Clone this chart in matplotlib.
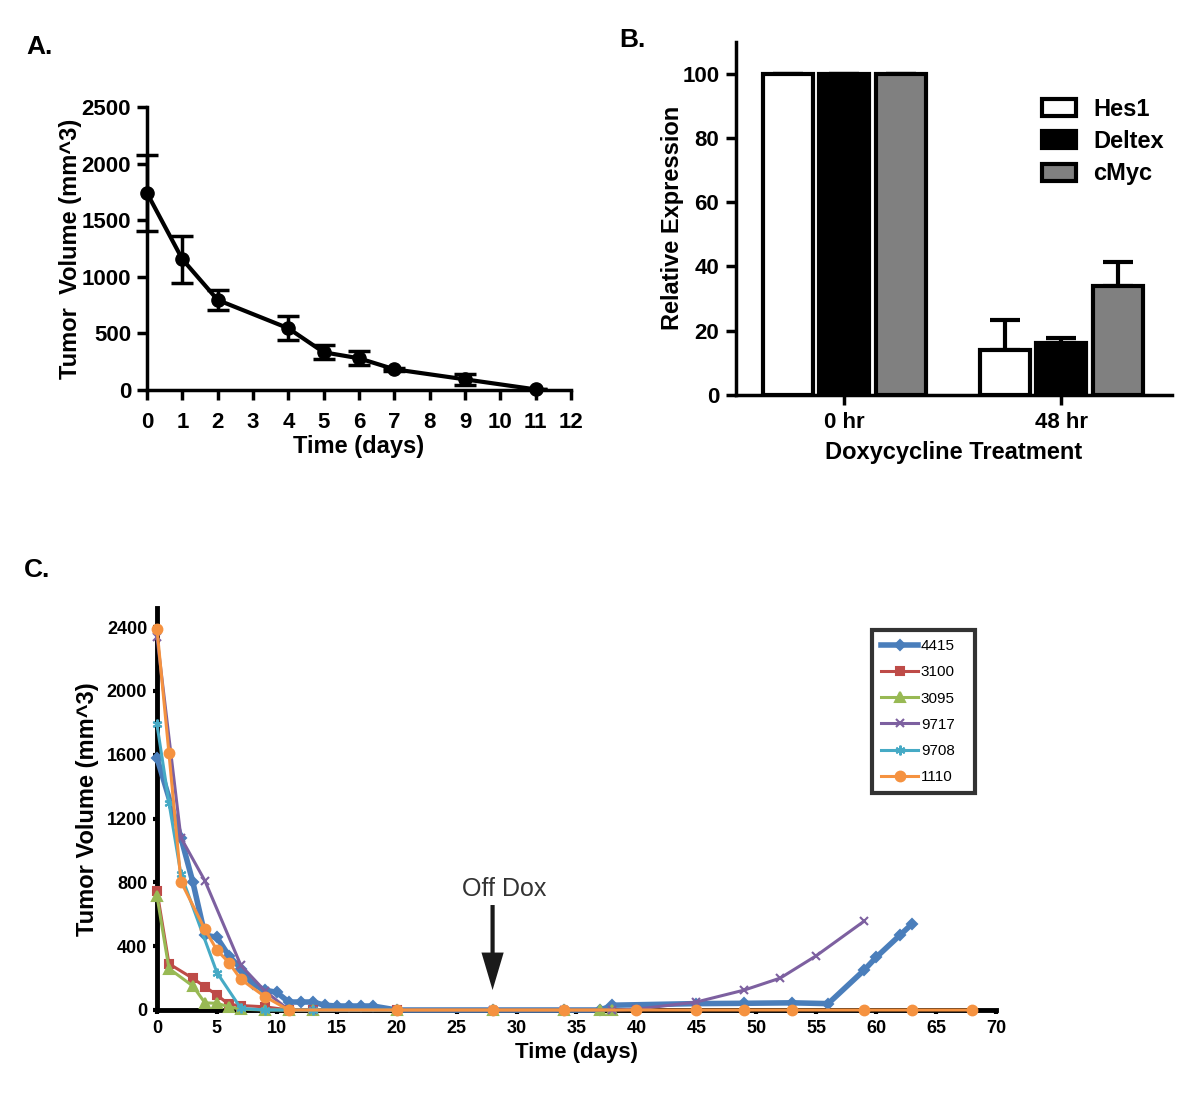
import numpy as np
import matplotlib
matplotlib.use('Agg')
import matplotlib.pyplot as plt

plt.rcParams['font.family'] = ['Liberation Sans', 'DejaVu Sans']

# ---- panel A: mean tumor volume
a_days = [0, 1, 2, 4, 5, 6, 7, 9, 11]
a_vol = [1740, 1155, 795, 545, 333, 280, 183, 94, 5]
a_err = [332, 207, 90, 105, 62, 60, 12, 50, 0]

# ---- panel B: relative expression
b_groups = ['0 hr', '48 hr']
b_genes = ['Hes1', 'Deltex', 'cMyc']
b_vals = {'Hes1': [100, 14], 'Deltex': [100, 16.1], 'cMyc': [100, 34]}
b_err = {'Hes1': [0, 9.3], 'Deltex': [0, 1.6], 'cMyc': [0, 7.4]}
b_colors = ['white', 'black', '#808080']

# ---- panel C: individual tumors
c_names = ['4415', '3100', '3095', '9717', '9708', '1110']
d4415 = [0, 2, 3, 4, 5, 6, 7, 8, 9, 10, 11, 12, 13, 14, 15, 16, 17, 18, 20, 28, 34, 37, 38, 45, 49, 53, 56, 59, 60, 62, 63]
v4415 = [1580, 1080, 800, 470, 455, 340, 260, 160, 125, 110, 50, 50, 50, 30, 25, 25, 25, 25, 0, 0, 0, 0, 30, 40, 42, 45, 40, 250, 330, 470, 540]
d3100 = [0, 1, 3, 4, 5, 6, 7, 9, 11, 13, 20]
v3100 = [746, 290, 198, 146, 94, 35, 28, 20, 0, 0, 0]
d3095 = [0, 1, 3, 4, 5, 6, 7, 9, 11, 13, 20, 28, 34, 37, 38]
v3095 = [715, 260, 150, 45, 42, 20, 5, 0, 0, 0, 0, 0, 0, 0, 0]
d9717 = [0, 2, 4, 7, 9, 11, 13, 20, 28, 34, 38, 40, 45, 49, 52, 55, 59]
v9717 = [2340, 1080, 810, 280, 120, 0, 0, 0, 0, 0, 0, 5, 50, 125, 200, 340, 557]
d9708 = [0, 1, 2, 5, 7, 9, 11, 13, 20]
v9708 = [1790, 1300, 850, 235, 10, 0, 0, 0, 0]
d1110 = [0, 1, 2, 4, 5, 6, 7, 9, 11, 20, 28, 34, 40, 45, 49, 53, 59, 63, 68]
v1110 = [2390, 1610, 805, 505, 376, 297, 192, 84, 0, 0, 0, 0, 0, 0, 0, 0, 0, 0, 0]
c_days = [d4415, d3100, d3095, d9717, d9708, d1110]
c_vals = [v4415, v3100, v3095, v9717, v9708, v1110]
c_colors = ['#4A7EBB', '#BE4B48', '#98B954', '#7D60A0', '#46AAC5', '#F59240']
c_markers = ['D', 's', '^', 'x', (6, 2, 0), 'o']
c_msize = [5, 6, 7, 6, 7, 7]
c_lw = [4, 2.2, 2.2, 2.2, 2.2, 2.2]

fig = plt.figure(figsize=(12, 11.06), dpi=100)

# ------------------------------------------------------------ A
ax = fig.add_axes([0.1225, 0.6474, 0.3533, 0.2559])
ax.errorbar(a_days, a_vol, yerr=a_err, color='black', lw=3, marker='o', ms=9.5,
            capsize=8, capthick=2.5, elinewidth=2.5, clip_on=False, zorder=3)
ax.set_xlim(0, 12)
ax.set_ylim(0, 2500)
ax.set_xticks(range(13))
ax.set_yticks(range(0, 2501, 500))
for s in ['top', 'right']:
    ax.spines[s].set_visible(False)
for s in ['left', 'bottom']:
    ax.spines[s].set_linewidth(2.5)
ax.tick_params(width=2.5, length=7.5, labelsize=16, pad=4)
ax.tick_params(axis='x', pad=8)
for lab in ax.get_xticklabels() + ax.get_yticklabels():
    lab.set_fontweight('bold')
ax.set_xlabel('Time (days)', fontsize=17, fontweight='bold', labelpad=2)
ax.set_ylabel('Tumor  Volume (mm^3)', fontsize=17, fontweight='bold', labelpad=0)

# ------------------------------------------------------------ B
ax = fig.add_axes([0.6133, 0.6429, 0.3634, 0.3194])
x = np.arange(len(b_groups))
w = 0.23
for i, g in enumerate(b_genes):
    ax.bar(x + (i - 1) * 0.262, b_vals[g], w, color=b_colors[i], edgecolor='black',
           lw=3, label=g, zorder=2)
    ax.errorbar(x + (i - 1) * 0.262, b_vals[g], yerr=[[0, 0], b_err[g]], fmt='none',
                ecolor='black', elinewidth=3, capsize=11, capthick=3, zorder=1)
ax.set_xlim(-0.5, 1.51)
ax.set_ylim(0, 110)
ax.set_xticks(x)
ax.set_xticklabels(b_groups)
ax.set_yticks(range(0, 101, 20))
for s in ['top', 'right']:
    ax.spines[s].set_visible(False)
for s in ['left', 'bottom']:
    ax.spines[s].set_linewidth(2.5)
ax.tick_params(width=2.5, length=7, labelsize=16, pad=5)
for lab in ax.get_xticklabels() + ax.get_yticklabels():
    lab.set_fontweight('bold')
ax.set_xlabel('Doxycycline Treatment', fontsize=17, fontweight='bold', labelpad=6)
ax.set_ylabel('Relative Expression', fontsize=17, fontweight='bold', labelpad=-1)
leg = ax.legend(loc='upper left', bbox_to_anchor=(0.851, 0.931), bbox_transform=fig.transFigure,
                frameon=False, prop={'weight': 'bold', 'size': 17}, handlelength=1.44,
                handleheight=0.75, labelspacing=0.4, handletextpad=0.72)

# ------------------------------------------------------------ C
ax = fig.add_axes([0.1308, 0.0868, 0.6992, 0.3635])
for i in range(len(c_names)):
    ax.plot(c_days[i], c_vals[i], color=c_colors[i], lw=c_lw[i], marker=c_markers[i],
            ms=c_msize[i], mew=1.5, label=c_names[i], clip_on=False, zorder=3 + i)
ax.set_xlim(0, 70)
ax.set_ylim(0, 2520)
ax.set_xticks(range(0, 71, 5))
ax.set_yticks(range(0, 2401, 400))
for s in ['top', 'right']:
    ax.spines[s].set_visible(False)
for s in ['left', 'bottom']:
    ax.spines[s].set_linewidth(3.5)
ax.tick_params(width=3, length=3, labelsize=13, pad=4)
for lab in ax.get_xticklabels() + ax.get_yticklabels():
    lab.set_fontweight('bold')
ax.set_xlabel('Time (days)', fontsize=16, fontweight='bold', labelpad=4)
ax.set_ylabel('Tumor Volume (mm^3)', fontsize=17, fontweight='bold', labelpad=6)

ax.annotate('', xy=(28, 125), xytext=(28, 658),
            arrowprops=dict(width=3, headwidth=16, headlength=27, facecolor='#1a1a1a',
                            edgecolor='none', shrink=0))
ax.text(29, 760, 'Off Dox', fontsize=18, color='#333333', ha='center', va='center')

leg = ax.legend(loc='upper left', bbox_to_anchor=(0.7267, 0.2812, 0.0858, 0.1492),
                bbox_transform=fig.transFigure, mode='expand', borderaxespad=0,
                fontsize=11, handlelength=2.4, labelspacing=0.8, handletextpad=0.2,
                borderpad=0.6, fancybox=False, edgecolor='black')
leg.get_frame().set_linewidth(3)

for lbl, xx, yy in [('A.', 0.022, 0.9575), ('B.', 0.516, 0.9638), ('C.', 0.02, 0.4846)]:
    fig.text(xx, yy, lbl, fontsize=19, fontweight='bold', va='center')

fig.savefig('out.png', dpi=100)
